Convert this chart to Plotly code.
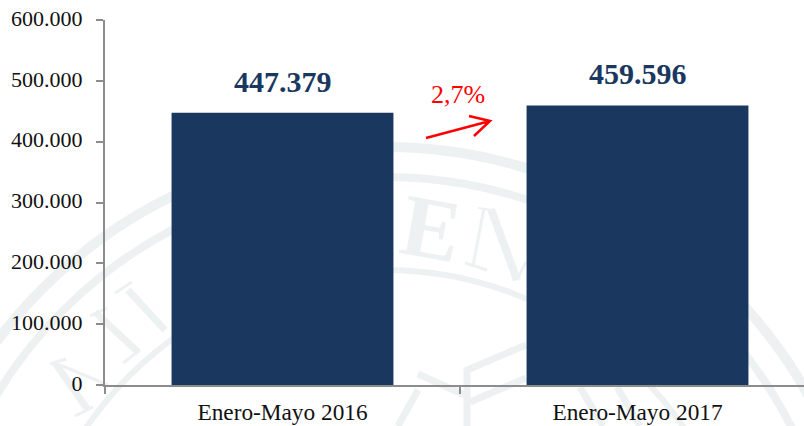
import plotly.graph_objects as go

categories = ["Enero-Mayo 2016", "Enero-Mayo 2017"]
values = [447379, 459596]
y_ticks = [0, 100000, 200000, 300000, 400000, 500000, 600000]
change_label = "2,7%"

W, H = 804, 426
L, R, T, B = 105, 0, 20, 41
PW, PH = W - L - R, H - T - B
SERIF = "Liberation Serif"
NAVY = "#1a385f"
AXIS = "#8c8c8c"
MARK = "#eef1f2"

def px(x):
    return (x - L) / PW

def py(y):
    return 1 - (y - T) / PH

def path(points):
    return "M" + " L".join(f"{px(x):.5f},{py(y):.5f}" for x, y in points)

fig = go.Figure(go.Bar(
    x=[0, 1], y=values, width=0.625,
    marker=dict(color=NAVY, line=dict(width=0)),
    hoverinfo="skip", showlegend=False,
))

# faint seal in the background
shapes = []
cx, cy = 385, 632
for r, w in [(485, 10), (455, 8), (362, 6)]:
    shapes.append(dict(type="circle", xref="paper", yref="paper", layer="below",
                       x0=px(cx - r), x1=px(cx + r), y0=py(cy + r), y1=py(cy - r),
                       line=dict(color=MARK, width=w)))
seal_strokes = [
    # building outline
    ([(467, 426), (467, 370), (526, 345)], 7),
    ([(470, 402), (526, 378)], 7),
    ([(418, 374), (467, 396)], 7),
    ([(398, 426), (418, 390)], 7),
    ([(580, 387), (603, 426)], 7),
    ([(617, 387), (640, 426)], 7),
    # M tucked behind the second bar
    ([(484, 208), (473, 266)], 3),
    ([(478, 208), (493, 210)], 2),
    ([(465, 263), (487, 270)], 3),
    ([(491, 209), (517, 280)], 8),
    ([(517, 280), (526, 262)], 3),
    # N on the left
    ([(115, 293), (132, 282)], 3),
    ([(128, 290), (165, 330)], 7),
    # I
    ([(95, 312), (138, 352)], 7),
    ([(90, 316), (107, 308)], 3),
    ([(123, 363), (140, 350)], 3),
    # A
    ([(55, 363), (88, 410)], 7),
    ([(60, 365), (108, 385)], 3),
    ([(50, 364), (66, 359)], 3),
    ([(75, 416), (93, 407)], 3),
]
for pts, w in seal_strokes:
    shapes.append(dict(type="path", xref="paper", yref="paper", layer="below",
                       path=path(pts), line=dict(color=MARK, width=w)))

# change arrow
shapes.append(dict(type="path", xref="paper", yref="paper", layer="above",
                   path=path([(426, 138), (490, 121)]) + " " + path([(469, 116), (490, 121), (474, 136)]),
                   line=dict(color="#ff0000", width=2.5)))

annotations = [dict(text="<b>E</b>", xref="paper", yref="paper", x=px(431), y=py(228),
                    xanchor="center", yanchor="middle", showarrow=False, textangle=10,
                    font=dict(family=SERIF, size=88, color=MARK))]
for i, v in enumerate(values):
    annotations.append(dict(x=i, y=v, xref="x", yref="y", yshift=13, yanchor="bottom",
                            xanchor="center", showarrow=False,
                            text=f"<b>{v:,}</b>".replace(",", "."),
                            font=dict(family=SERIF, size=30, color=NAVY)))
annotations.append(dict(text=change_label, xref="paper", yref="paper", x=px(458), y=py(95),
                        xanchor="center", yanchor="middle", showarrow=False,
                        font=dict(family=SERIF, size=26, color="#ff0000")))

fig.update_layout(
    width=W, height=H, margin=dict(l=L, r=R, t=T, b=B),
    paper_bgcolor="white", plot_bgcolor="rgba(0,0,0,0)",
    separators=",.", showlegend=False, shapes=shapes, annotations=annotations,
    font=dict(family=SERIF, color="#111111"),
)
fig.update_xaxes(
    range=[-0.5, 1.469], tickmode="array", tickvals=[0, 1], ticktext=categories,
    ticks="", showgrid=False, zeroline=False, showline=True, linecolor=AXIS, linewidth=2,
    ticklabelstandoff=5,
    tickfont=dict(family=SERIF, size=23.3, color="#111111"),
    minor=dict(tickmode="array", tickvals=[-0.5, 0.5], ticks="outside", ticklen=7,
               tickwidth=2, tickcolor=AXIS, showgrid=False),
)
fig.update_yaxes(
    range=[0, 600000], tickmode="array", tickvals=y_ticks, tickformat=",d",
    ticks="outside", ticklen=7, tickwidth=2, tickcolor=AXIS,
    showgrid=False, zeroline=False, showline=True, linecolor=AXIS, linewidth=2,
    ticklabelstandoff=9, ticklabelshift=-2, tickfont=dict(family=SERIF, size=22, color="#111111"),
)

fig.write_html("out.html", config=dict(displayModeBar=False),
               post_script="document.body.style.margin='0';document.documentElement.style.overflow='hidden';")
